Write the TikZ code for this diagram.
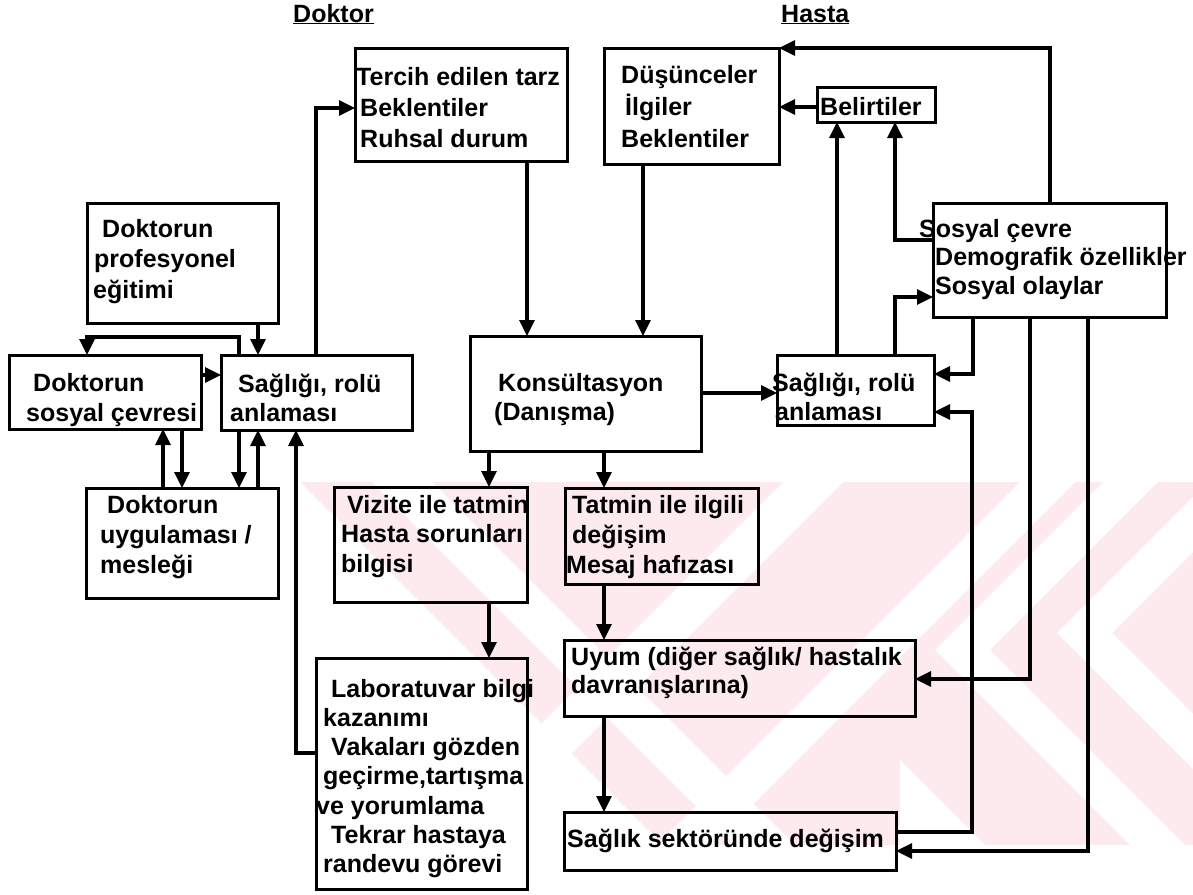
\documentclass[tikz,border=0pt]{standalone}
\usepackage{fontspec}
\setmainfont{Liberation Sans}
\usetikzlibrary{arrows.meta}
\definecolor{wmpink}{RGB}{252,234,238}
% a left-aligned block whose base anchor is the first line's baseline
\newcommand\rows[2][29.5]{{\fontsize{25}{#1}\selectfont\begin{tabular}[t]{@{}l@{}}#2\end{tabular}}}
% a framed box given by its corners (x1,y1) (x2,y2)
\newcommand\bx[5]{\node[box, minimum width={#4-#2}, minimum height={#5-#3}] (#1) at ({(#2+#4)/2},{(#3+#5)/2}) {};}
\begin{document}
\begin{tikzpicture}[x=1pt,y=-1pt,
  box/.style={draw, line width=3pt, rectangle, inner sep=0pt, outer sep=0pt},
  txt/.style={anchor=base west, inner sep=0pt, font=\bfseries},
  arr/.style={line width=3.2pt, -{Triangle[length=16pt,width=15pt]}}]
\useasboundingbox (0,0) rectangle (1193,894);

% faint background watermark: pink field with white diagonal gaps
\begin{scope}
  \clip (300,482) rectangle (1193,845);
  \fill[wmpink] (300,482) rectangle (1193,845);
  \fill[white] (300,482) -- (663,845) -- (300,845) -- cycle;
  \fill[white] (372,482) -- (432,482) -- (795,845) -- (735,845) -- cycle;
  \fill[white] (783,482) -- (843,482) -- (480,845) -- (420,845) -- cycle;
  \fill[white] (1020,482) -- (1075,482) -- (712,845) -- (657,845) -- cycle;
  % nested chevrons on the right
  \fill[white] (1208,482) -- (1263,482) -- (1112,633) -- (1324,845) -- (1269,845) -- (1057,633) -- cycle;
  \fill[white] (1103,482) -- (1158,482) -- (990,650) -- (1185,845) -- (1130,845) -- (935,650) -- cycle;
  \fill[white] (900,760) -- (985,845) -- (900,845) -- cycle;
\end{scope}

% headings
\node[txt] (hdoktor) at (293,22) {\fontsize{25}{29}\selectfont\underline{Doktor}};
\node[txt] (hhasta) at (781,22) {\fontsize{25}{29}\selectfont\underline{Hasta}};

% boxes
\bx{tercih}{355}{48}{567}{161}
\bx{dusun}{604}{48}{779}{164}
\bx{belirti}{817}{87}{935}{122}
\bx{sosyal}{933}{203}{1166}{317}
\bx{prof}{87}{203}{278}{323}
\bx{dsosyal}{9}{355}{201}{429}
\bx{dsaglik}{221}{355}{412}{430}
\bx{uygul}{86}{488}{278}{598}
\bx{kons}{470}{336}{701}{451}
\bx{hsaglik}{777}{355}{934}{425}
\bx{vizite}{334}{487}{527}{602}
\bx{tatmin}{565}{488}{758}{584}
\bx{lab}{316}{658}{527}{889}
\bx{uyum}{564}{640}{915}{716}
\bx{sektor}{564}{812}{896}{870}

% box texts
\node[txt] (ttercih) at (356,85) {\rows[31]{Tercih edilen tarz\\\hspace*{4pt}Beklentiler\\\hspace*{4pt}Ruhsal durum}};
\node[txt] (tdusun) at (621,83) {\rows[32]{Düşünceler\\\hspace*{4pt}\smash{İ}lgiler\\Beklentiler}};
\node[txt] (tbelirti) at (820,115) {\rows{Belirtiler}};
\node[txt] (tsosyal) at (919,237) {\rows[28.5]{Sosyal çevre\\\hspace*{16pt}Demografik özellikler\\\hspace*{16pt}Sosyal olaylar}};
\node[txt] (tprof) at (93,237) {\rows[30.5]{\hspace*{9pt}Doktorun\\\hspace*{1pt}profesyonel\\eğitimi}};
\node[txt] (tdsosyal) at (26,391) {\rows[30]{\hspace*{7pt}Doktorun\\sosyal çevresi}};
\node[txt] (tdsaglik) at (230,392) {\rows[29]{\hspace*{8pt}Sağlığı, rolü\\anlaması}};
\node[txt] (tuygul) at (100,513) {\rows[30]{\hspace*{7pt}Doktorun\\uygulaması /\\mesleği}};
\node[txt] (tkons) at (494,391) {\rows[29]{\hspace*{4pt}Konsültasyon\\(Danışma)}};
\node[txt] (thsaglik) at (772,391) {\rows[29]{Sağlığı, rolü\\\hspace*{3pt}anlaması}};
\node[txt] (tvizite) at (341,513) {\rows[29.5]{\hspace*{6pt}Vizite ile tatmin\\Hasta sorunları\\bilgisi}};
\node[txt] (ttatmin) at (566,513) {\rows[30]{\hspace*{6pt}Tatmin ile ilgili\\\hspace*{6pt}değişim\\Mesaj hafızası}};
\node[txt] (tlab) at (316,697) {\rows[29.3]{\hspace*{15pt}Laboratuvar bilgi\\\hspace*{7pt}kazanımı\\\hspace*{15pt}Vakaları gözden\\\hspace*{7pt}geçirme,tartışma\\ve yorumlama\\\hspace*{15pt}Tekrar hastaya\\\hspace*{7pt}randevu görevi}};
\node[txt] (tuyum) at (571,665) {\rows[28.5]{Uyum (diğer sağlık/ hastalık\\davranışlarına)}};
\node[txt] (tsektor) at (567,847) {\rows{Sağlık sektöründe değişim}};

% doctor side
\draw[arr] (prof.south -| 258,0) -- (dsaglik.north -| 258,0);
\draw[arr] (dsaglik.north -| 239,0) -- (239,337) -- (87,337) -- (dsosyal.north -| 87,0);
\draw[arr] (dsosyal.east |- 0,375) -- (dsaglik.west |- 0,375);
\draw[arr] (uygul.north -| 163,0) -- (dsosyal.south -| 163,0);
\draw[arr] (dsosyal.south -| 182,0) -- (uygul.north -| 182,0);
\draw[arr] (dsaglik.south -| 239,0) -- (uygul.north -| 239,0);
\draw[arr] (uygul.north -| 258,0) -- (dsaglik.south -| 258,0);
\draw[arr] (lab.west |- 0,753) -- (296,753) -- (dsaglik.south -| 296,0);
\draw[arr] (dsaglik.north -| 316,0) -- (316,108) -- (tercih.west |- 0,108);

% consultation and outcomes
\draw[arr] (tercih.south -| 527,0) -- (kons.north -| 527,0);
\draw[arr] (dusun.south -| 643,0) -- (kons.north -| 643,0);
\draw[arr] (kons.east |- 0,393) -- (hsaglik.west |- 0,393);
\draw[arr] (kons.south -| 489,0) -- (vizite.north -| 489,0);
\draw[arr] (kons.south -| 604,0) -- (tatmin.north -| 604,0);
\draw[arr] (vizite.south -| 489,0) -- (lab.north -| 489,0);
\draw[arr] (tatmin.south -| 604,0) -- (uyum.north -| 604,0);
\draw[arr] (uyum.south -| 604,0) -- (sektor.north -| 604,0);

% patient side
\draw[arr] (belirti.west |- 0,107) -- (dusun.east |- 0,107);
\draw[arr] (hsaglik.north -| 837,0) -- (belirti.south -| 837,0);
\draw[arr] (sosyal.west |- 0,240) -- (895,240) -- (belirti.south -| 895,0);
\draw[arr] (hsaglik.north -| 895,0) -- (895,297) -- (sosyal.west |- 0,297);
\draw[arr] (sosyal.north -| 1050,0) -- (dusun.north -| 1050,0) -- (dusun.north east);
\draw[arr] (sosyal.south -| 973,0) -- (973,374) -- (hsaglik.east |- 0,374);
\draw[arr] (sektor.east |- 0,832) -- (972,832) -- (972,412) -- (hsaglik.east |- 0,412);
\draw[arr] (sosyal.south -| 1030,0) -- (1030,679) -- (uyum.east |- 0,679);
\draw[arr] (sosyal.south -| 1088,0) -- (1088,851) -- (sektor.east |- 0,851);
\end{tikzpicture}
\end{document}
